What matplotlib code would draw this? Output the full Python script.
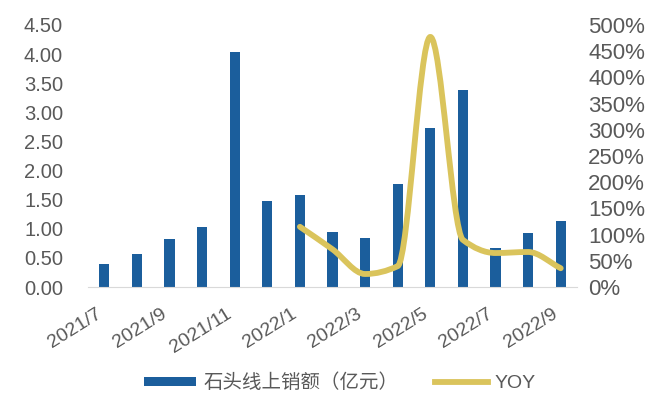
import numpy as np
import matplotlib
matplotlib.use("Agg")
import matplotlib.pyplot as plt
from matplotlib.path import Path
from matplotlib.patches import PathPatch, Patch
from matplotlib.lines import Line2D
from matplotlib.ticker import FuncFormatter

plt.rcParams['font.family'] = ['Liberation Sans', 'Noto Sans CJK SC', 'DejaVu Sans']

months = ['2021/7', '2021/8', '2021/9', '2021/10', '2021/11', '2021/12',
          '2022/1', '2022/2', '2022/3', '2022/4', '2022/5', '2022/6',
          '2022/7', '2022/8', '2022/9']
sales = [0.40, 0.57, 0.83, 1.03, 4.04, 1.48, 1.58, 0.95, 0.84, 1.77,
         2.73, 3.38, 0.67, 0.93, 1.13]
yoy_months = ['2022/1', '2022/2', '2022/3', '2022/4', '2022/5', '2022/6',
              '2022/7', '2022/8', '2022/9']
yoy = [1.15, 0.72, 0.25, 0.40, 4.77, 0.90, 0.65, 0.67, 0.36]

bar_color = '#1B5E9C'
line_color = '#DAC45C'
text_color = '#595959'

fig = plt.figure(figsize=(6.52, 4.01), dpi=100)
ax = fig.add_axes([0.135, 0.284, 0.750, 0.654])
x = np.arange(len(months))
ax.bar(x, sales, width=0.31, color=bar_color, zorder=2)
ax.set_xlim(-0.5, len(months) - 0.5)
ax.set_ylim(0, 4.5)
ax.set_yticks(np.arange(0, 4.51, 0.5))
ax.yaxis.set_major_formatter(FuncFormatter(lambda v, p: f'{v:.2f}'))
ax.set_xticks(x[::2])
ax.set_xticklabels(months[::2], rotation=32, ha='right', rotation_mode='default')
for s in ['top', 'right', 'left']:
    ax.spines[s].set_visible(False)
ax.spines['bottom'].set_color('#D9D9D9')
ax.tick_params(axis='y', length=0, pad=18, labelsize=14.5, labelcolor=text_color)
ax.tick_params(axis='x', length=0, pad=13, labelsize=14, labelcolor=text_color)

ax2 = ax.twinx()
ax2.set_ylim(0, 5.0)
ax2.set_yticks(np.arange(0, 5.01, 0.5))
ax2.yaxis.set_major_formatter(FuncFormatter(lambda v, p: f'{v*100:.0f}%'))
for s in ['top', 'right', 'left', 'bottom']:
    ax2.spines[s].set_visible(False)
ax2.tick_params(axis='y', length=0, pad=8, labelsize=16, labelcolor=text_color)

# smoothed line (monotone cubic Hermite as Bezier segments)
xs = np.array([months.index(m) for m in yoy_months], dtype=float)
ys = np.array(yoy, dtype=float)
h = np.diff(xs)
d = np.diff(ys) / h
m = np.zeros_like(ys)
m[0] = d[0]
m[-1] = d[-1]
for i in range(1, len(ys) - 1):
    if d[i - 1] * d[i] <= 0:
        m[i] = 0
    else:
        w1 = 2 * h[i] + h[i - 1]
        w2 = h[i] + 2 * h[i - 1]
        m[i] = (w1 + w2) / (w1 / d[i - 1] + w2 / d[i])
verts = [(xs[0], ys[0])]
codes = [Path.MOVETO]
for i in range(len(xs) - 1):
    hh = h[i]
    verts += [(xs[i] + hh / 3, ys[i] + m[i] * hh / 3),
              (xs[i + 1] - hh / 3, ys[i + 1] - m[i + 1] * hh / 3),
              (xs[i + 1], ys[i + 1])]
    codes += [Path.CURVE4] * 3
patch = PathPatch(Path(verts, codes), facecolor='none', edgecolor=line_color,
                  lw=4.2, capstyle='round', joinstyle='round', zorder=3)
ax2.add_patch(patch)

handles = [Patch(facecolor=bar_color, edgecolor='none'),
           Line2D([0], [0], color=line_color, lw=4.2)]
labels = ['石头线上销额（亿元）', 'YOY']
leg = fig.legend(handles, labels, loc='center', bbox_to_anchor=(0.521, 0.045), ncol=2,
                 frameon=False, fontsize=14, handlelength=2.7, handleheight=0.35,
                 handletextpad=0.35, columnspacing=1.9)
for t in leg.get_texts():
    t.set_color(text_color)

fig.savefig('out.png', dpi=100)
